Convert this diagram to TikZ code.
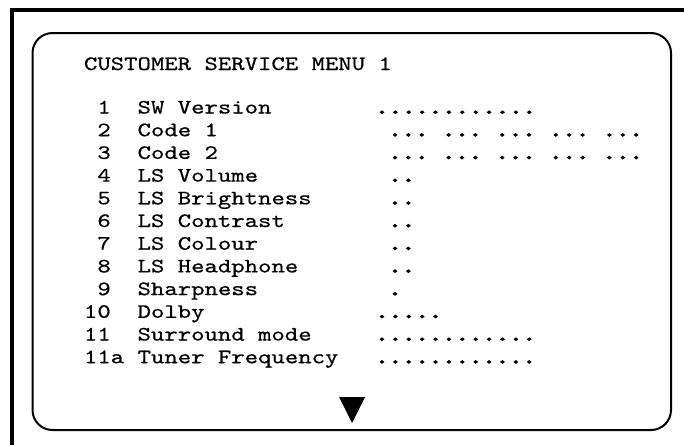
\documentclass[tikz,border=0pt]{standalone}
\usepackage{fontspec}
\newfontfamily\cour{lmmono10-regular.otf}[FakeStretch=1.25,FakeBold=0.6]
\newfontfamily\courdot{lmmono10-regular.otf}[FakeStretch=1.25,FakeBold=5]
\begin{document}
\begin{tikzpicture}[x=1pt,y=-1pt,
  txt/.style={anchor=base west,inner sep=0pt,outer sep=0pt,font=\cour\fontsize{20.4}{22.7}\selectfont},
  dotstxt/.style={anchor=base west,inner sep=0pt,outer sep=0pt,font=\courdot\fontsize{20.4}{22.7}\selectfont},
  frame/.style={line width=3.5pt,line join=miter},
  screen/.style={line width=2pt,rounded corners=20pt}]
\useasboundingbox (0,0) rectangle (684,445);
% outer frame (top and left edges)
\draw[frame] (684,10) -- (12,10) -- (12,445);
% screen outline
\draw[screen] (32.5,33) rectangle (671,430);
% title
\node[txt] (title) at (84,70) {CUSTOMER SERVICE MENU 1};
% rows: number, label, dots
\def\cw{13.4}
\def\xn{97.4}\def\xnn{84}\def\xl{137.6}
\def\da{375.3}\def\db{388.3}
\foreach \i/\n/\nx/\lab/\dx/\dots in {
  1/1/\xn/SW Version/\da/{............},
  4/4/\xn/LS Volume/\db/{..},
  5/5/\xn/LS Brightness/\db/{..},
  6/6/\xn/LS Contrast/\db/{..},
  7/7/\xn/LS Colour/\db/{..},
  8/8/\xn/LS Headphone/\db/{..},
  9/9/\xn/Sharpness/\db/{.},
  10/10/\xnn/Dolby/\da/{.....},
  11/11/\xnn/Surround mode/\da/{............},
  12/11a/\xnn/Tuner Frequency/\da/{............}}{
  \pgfmathsetmacro{\yb}{113.5+22.7*(\i-1)}
  \node[txt] (num\i) at (\nx,\yb) {\n};
  \node[txt] (lab\i) at (\xl,\yb) {\lab};
  \node[dotstxt] (dots\i) at (\dx,\yb) {\dots};
}
\foreach \i/\lab in {2/Code 1,3/Code 2}{
  \pgfmathsetmacro{\yb}{113.5+22.7*(\i-1)}
  \node[txt] (num\i) at (\xn,\yb) {\i};
  \node[txt] (lab\i) at (\xl,\yb) {\lab};
  \foreach \k in {0,...,4}{
    \node[dotstxt] (dots\i-\k) at ({\db+\k*4*\cw},\yb) {...};
  }
}
% down arrow marker
\fill (339,397) -- (365,397) -- (352,423) -- cycle;
\end{tikzpicture}
\end{document}
